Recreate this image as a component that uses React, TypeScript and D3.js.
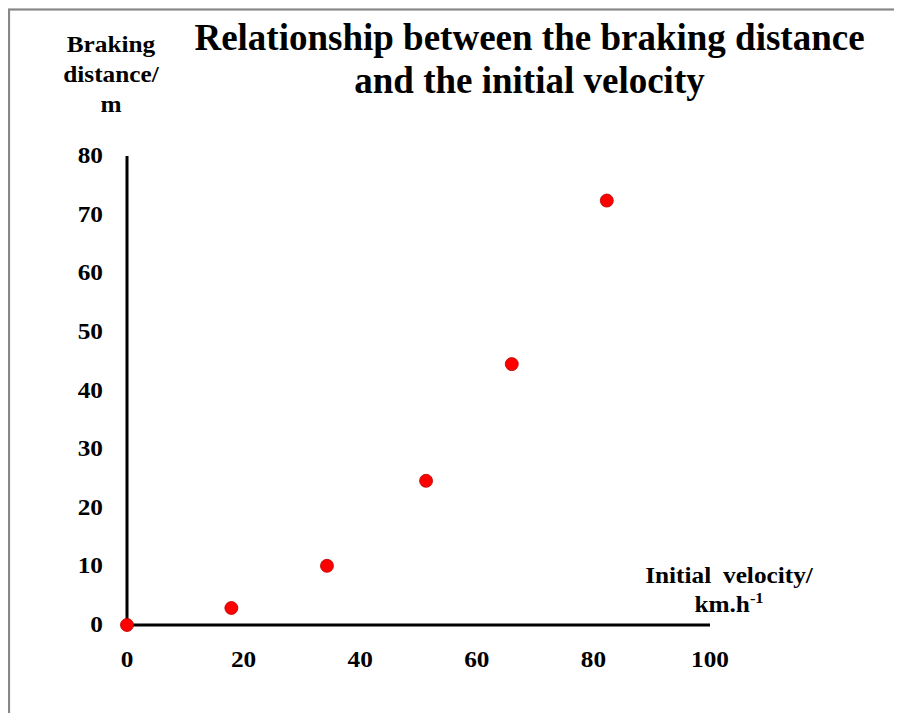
import React, { useEffect } from "react";
import * as d3 from "d3";

const velocity = [0, 17.9, 34.3, 51.3, 66, 82.3];
const distance = [0, 2.9, 10.1, 24.6, 44.5, 72.4];
const xTicks = [0, 20, 40, 60, 80, 100];
const yTicks = [0, 10, 20, 30, 40, 50, 60, 70, 80];
const titleLines = ["Relationship between the braking distance", "and the initial velocity"];
const yLabelLines = ["Braking", "distance/", "m"];

export default function App() {
  useEffect(() => {
    document.documentElement.style.overflow = "hidden";
    document.body.style.overflow = "hidden";
  }, []);
  const W = 894;
  const H = 705;
  const x = d3.scaleLinear().domain([0, 100]).range([127, 710]);
  const y = d3.scaleLinear().domain([0, 80]).range([625, 156]);
  const font = "'Liberation Serif', 'Times New Roman', serif";
  const pts = velocity.map((v, i) => ({ v, d: distance[i] }));
  const sx = 1.1;
  const T = (props: { x: number; y: number; anchor: string; size: number; children: React.ReactNode; ws?: number }) => (
    <text
      transform={`translate(${props.x},${props.y}) scale(${sx},1)`}
      textAnchor={props.anchor}
      fontSize={props.size}
      fontWeight="bold"
      fill="#000"
      wordSpacing={props.ws}
    >
      {props.children}
    </text>
  );
  return (
    <svg width={W} height={H} style={{ display: "block" }} fontFamily={font}>
      <g transform="translate(-8,-8)">
        <rect x={9} y={9.5} width={1000} height={1000} fill="white" stroke="#888" strokeWidth={2.2} />
        {titleLines.map((t, i) => (
          <text key={t} x={529.5} y={50 + i * 43} textAnchor="middle" fontSize={37} fontWeight="bold" fill="#000">
            {t}
          </text>
        ))}
        {yLabelLines.map((t, i) => (
          <T key={t} x={111} y={52 + i * 30} anchor="middle" size={23}>
            {t}
          </T>
        ))}
        <T x={729} y={583} anchor="middle" size={23} ws={5}>
          Initial velocity/
        </T>
        <T x={729} y={612} anchor="middle" size={23}>
          km.h<tspan dy={-9} fontSize={15}>-1</tspan>
        </T>
        <line x1={x(0)} x2={x(100)} y1={y(0)} y2={y(0)} stroke="#000" strokeWidth={3} />
        <line x1={x(0)} x2={x(0)} y1={y(0)} y2={y(80)} stroke="#000" strokeWidth={3} />
        {xTicks.map((t) => (
          <T key={"x" + t} x={x(t)} y={667} anchor="middle" size={23}>
            {t}
          </T>
        ))}
        {yTicks.map((t) => (
          <T key={"y" + t} x={103} y={y(t) + 7} anchor="end" size={23}>
            {t}
          </T>
        ))}
        {pts.map((p, i) => (
          <circle key={i} cx={x(p.v)} cy={y(p.d)} r={6.5} fill="#ff0000" stroke="#b80000" strokeWidth={0.8} />
        ))}
      </g>
    </svg>
  );
}
